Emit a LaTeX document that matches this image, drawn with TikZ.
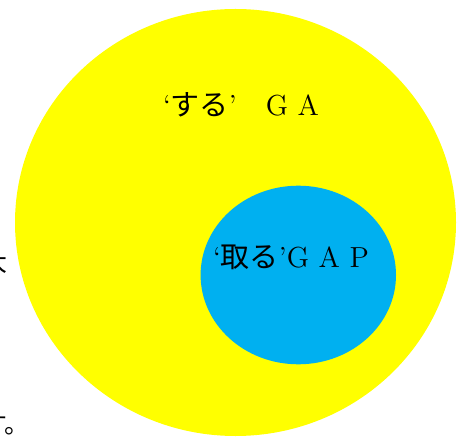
\documentclass[tikz,border=0pt]{standalone}
\usepackage{fontspec}
\newfontfamily\jp{Noto Sans CJK JP}
\usepackage{xcolor}
\definecolor{giallo}{HTML}{FFFF00}
\definecolor{azzurro}{HTML}{00B0F0}

\begin{document}
\begin{tikzpicture}[x=0.5pt, y=-0.5pt,
  etichetta/.style={font=\fontsize{14.5}{16}\selectfont, inner sep=0pt},
  bordo/.style={font=\fontsize{12.5}{14}\selectfont, inner sep=0pt}]

\useasboundingbox (0,0) rectangle (464,437);
\clip (0,0) rectangle (464,437);

% Insieme esterno
\fill[giallo] (235.5,222.5) ellipse [x radius=110.25pt, y radius=106.75pt];

% Insieme interno
\fill[azzurro] (298.3,275) ellipse [x radius=48.85pt, y radius=44.65pt];

% Etichette
\node[etichetta] (suru) at (241,105) {`{\jp する}'\quad G\,\,A};
\node[etichetta] (toru) at (291,257) {`{\jp 取る}'G\,\,A\,\,P};

% Testo tagliato al bordo
\node[bordo, anchor=east] (frammento) at (8,262) {{\jp 大}};
\node[bordo, anchor=west] (fine) at (-18,424) {{\jp す。}};

\end{tikzpicture}
\end{document}
